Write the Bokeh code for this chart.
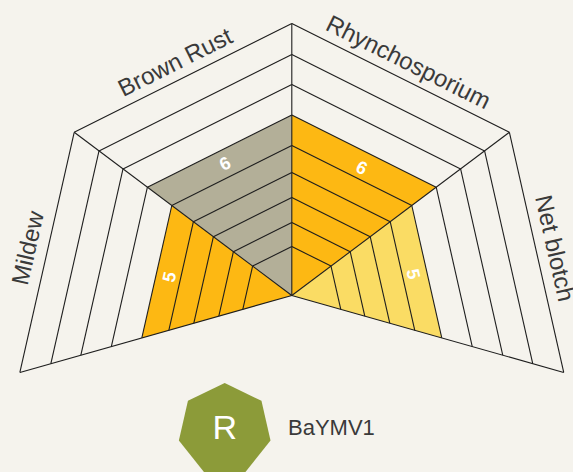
import math
from bokeh.plotting import figure
from bokeh.embed import file_html
from bokeh.resources import INLINE
from bokeh.core.properties import value

BG = "#F5F3ED"
INK = "#1E1E1E"
TEXT = "#3A3A3A"

categories = ["Mildew", "Brown Rust", "Rhynchosporium", "Net blotch"]
ratings = [5, 6, 6, 5]
fills = ["#FDB813", "#B3AF98", "#FDB813", "#FADC64"]
level_radius = [49, 73, 98, 123, 150, 180.5, 211, 241, 272]
spoke_angle = [195.8, 143.13, 90, 36.87, -15.8]
spoke_stretch = [1.039, 1.0, 1.0, 1.0, 1.039]
label_gap = [20, 18, 18, 19]
rating_nudge = [(0, -3), (-1, 0), (4, -4), (-1, 0)]
badge_letter = "R"
badge_name = "BaYMV1"

W, H = 573, 472
CX, CY = 291.3, 295.0

p = figure(width=W, height=H, output_backend="svg", toolbar_location=None,
           x_range=(-CX, W - CX), y_range=(CY - H, CY),
           background_fill_color=BG, border_fill_color=BG,
           min_border=0, outline_line_color=None)
p.axis.visible = False
p.grid.visible = False


def pt(spoke, r):
    a = math.radians(spoke_angle[spoke])
    s = spoke_stretch[spoke]
    return r * s * math.cos(a), r * s * math.sin(a)


def radius_of(level):
    return level_radius[level - 1]


# sector fills
fx, fy = [], []
for i, v in enumerate(ratings):
    r = radius_of(v)
    a, b = pt(i, r), pt(i + 1, r)
    fx.append([0, a[0], b[0]])
    fy.append([0, a[1], b[1]])
p.patches(fx, fy, fill_color=fills, line_color=None)

# rings
rx, ry = [], []
for i in range(len(categories)):
    for r in level_radius:
        a, b = pt(i, r), pt(i + 1, r)
        rx.append([a[0], b[0]])
        ry.append([a[1], b[1]])
# spokes
for s in range(len(spoke_angle)):
    e = pt(s, level_radius[-1])
    rx.append([0, e[0]])
    ry.append([0, e[1]])
p.multi_line(rx, ry, line_color=INK, line_width=1.1)

# category labels
for i, name in enumerate(categories):
    a, b = pt(i, level_radius[-1]), pt(i + 1, level_radius[-1])
    mx, my = (a[0] + b[0]) / 2, (a[1] + b[1]) / 2
    ang = math.atan2(b[1] - a[1], b[0] - a[0])
    nx, ny = -math.sin(ang), math.cos(ang)
    p.text([mx + nx * label_gap[i]], [my + ny * label_gap[i]], text=[name],
           angle=[ang], text_align="center",
           text_baseline="middle", text_color=TEXT, text_font_size="24px",
           text_font=value("Liberation Sans"))

# rating labels
for i, v in enumerate(ratings):
    r = (radius_of(v) + radius_of(v - 1)) / 2
    a, b = pt(i, r), pt(i + 1, r)
    ang = math.atan2(b[1] - a[1], b[0] - a[0])
    dx, dy = rating_nudge[i]
    p.text([(a[0] + b[0]) / 2 + dx], [(a[1] + b[1]) / 2 + dy], text=[str(v)], angle=[ang],
           text_align="center", text_baseline="middle", text_color="white",
           text_font_size="18px", text_font_style="bold",
           text_font=value("Liberation Sans"))

# badge
bx, by, br = 224.2 - CX, CY - 429.6, 47.0
hx = [bx + br * math.sin(2 * math.pi * k / 7) for k in range(7)]
hy = [by + br * math.cos(2 * math.pi * k / 7) for k in range(7)]
p.patch(hx, hy, fill_color="#8C9B39", line_color=None)
p.text([bx], [by + 3.5], text=[badge_letter], text_align="center", text_baseline="middle",
       text_color="white", text_font_size="34px", text_font=value("Liberation Sans"))
p.text([287.5 - CX], [CY - 426.5], text=[badge_name], text_align="left", text_baseline="middle",
       text_color=TEXT, text_font_size="22px", text_font=value("Liberation Sans"))

html = file_html(p, INLINE)
html = html.replace("</head>", "<style>html,body{margin:0;padding:0;background:%s;overflow:hidden}</style></head>" % BG, 1)
open("out.html", "w").write(html)
